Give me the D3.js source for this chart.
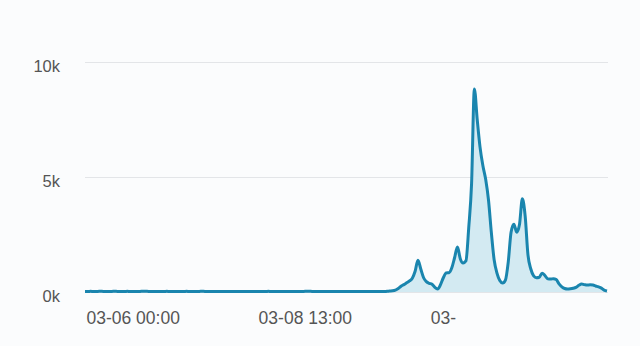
<!DOCTYPE html>
<html>
<head>
<meta charset="utf-8">
<script src="https://cdn.jsdelivr.net/npm/d3@7"></script>
<style>
  html, body { margin: 0; padding: 0; background: #fbfcfd; }
  svg { display: block; }
  .tick text { font-family: "Liberation Sans", Arial, sans-serif; fill: #555; }
</style>
</head>
<body>
<script>
// hourly counts, starting 03-06 00:00
var startTime = new Date(2023, 2, 6, 0, 0);
var flatPart = [
  20, 20, 30, 20, 20, 30, 30, 20, 20, 20, 30, 30, 20, 20, 20, 30, 20, 20, 20, 20,
  30, 30, 30, 20, 20, 20, 20, 20, 20, 30, 20, 20, 20, 20, 20, 20, 30, 20, 20, 20,
  20, 30, 30, 20, 20, 20, 20, 20, 20, 20, 20, 20, 20, 20, 20, 20, 20, 20, 20, 20,
  20, 20, 20, 20, 20, 30, 20, 20, 20, 20, 20, 20, 20, 20, 20, 20, 20, 20, 30, 30,
  30, 20, 20, 20, 20, 20, 20, 20, 20, 20, 20, 20, 20, 20, 20, 20, 20, 20, 20, 20,
  20, 20, 20, 20, 20, 20, 20, 30
];
var activePart = [
  40, 50, 80, 150, 250, 320, 400, 480, 600, 900,
  1380, 1000, 620, 450, 380, 340, 200, 130, 320, 620,
  830, 840, 1050, 1500, 1960, 1450, 1260, 1350, 2800, 4700,
  8830, 7500, 6300, 5500, 4900, 4000, 2600, 1400, 820, 500,
  390, 520, 1300, 2600, 2950, 2600, 2950, 4050, 3300, 1600,
  1000, 700, 620, 640, 820, 720, 570, 560, 580, 540,
  350, 220, 150, 130, 140, 160, 200, 290, 350, 320,
  300, 310, 300, 260, 220, 170, 80, 40
];
var counts = flatPart.concat(activePart);
var yTicks = [0, 5000, 10000];
var xTickTimes = [new Date(2023, 2, 6, 0, 0), new Date(2023, 2, 8, 13, 0), new Date(2023, 2, 11, 2, 0)];
var xTickLabels = ["03-06 00:00", "03-08 13:00", "03-"];

var svgWidth = 640, svgHeight = 346;
var margin = {top: 62, right: 33, bottom: 54, left: 85};
var innerW = svgWidth - margin.left - margin.right;
var innerH = svgHeight - margin.top - margin.bottom;

var data = counts.map(function(v, i) {
  return {t: d3.timeHour.offset(startTime, i), v: v};
});

var svg = d3.select("body").append("svg")
            .attr("width", svgWidth)
            .attr("height", svgHeight);

var g = svg.append("g").attr("transform", "translate(" + margin.left + "," + margin.top + ")");

var x = d3.scaleTime()
          .domain([startTime, data[data.length - 1].t])
          .range([0, innerW]);
var y = d3.scaleLinear().domain([0, 10000]).range([innerH, 0]);

// gridlines + y labels
var yAxis = g.append("g")
   .call(d3.axisLeft(y).tickValues(yTicks).tickSize(-innerW - 1)
           .tickFormat(function(d) { return (d / 1000) + "k"; }));
yAxis.select(".domain").remove();
yAxis.selectAll(".tick line").attr("stroke", "#e3e5e8").attr("stroke-width", 1.2);
yAxis.selectAll(".tick text").attr("x", -25).attr("dy", "0.6em").style("font-size", "16.5px");

// x labels, left aligned at their tick
var xAxis = g.append("g")
   .attr("transform", "translate(0," + innerH + ")")
   .call(d3.axisBottom(x).tickValues(xTickTimes).tickSize(0)
           .tickFormat(function(d, i) { return xTickLabels[i]; }));
xAxis.select(".domain").remove();
xAxis.selectAll(".tick text").attr("text-anchor", "start").attr("x", 1).attr("y", 20)
     .style("font-size", "17.5px");

var area = d3.area()
             .curve(d3.curveMonotoneX)
             .x(function(d) { return x(d.t); })
             .y0(innerH)
             .y1(function(d) { return y(d.v); });
var line = d3.line()
             .curve(d3.curveMonotoneX)
             .x(function(d) { return x(d.t); })
             .y(function(d) { return y(d.v); });

g.append("path").datum(data).attr("d", area).attr("fill", "#d3eaf2");
g.append("path").datum(data).attr("d", line)
 .attr("fill", "none").attr("stroke", "#1a85ae").attr("stroke-width", 3)
 .attr("stroke-linejoin", "round");
</script>
</body>
</html>
